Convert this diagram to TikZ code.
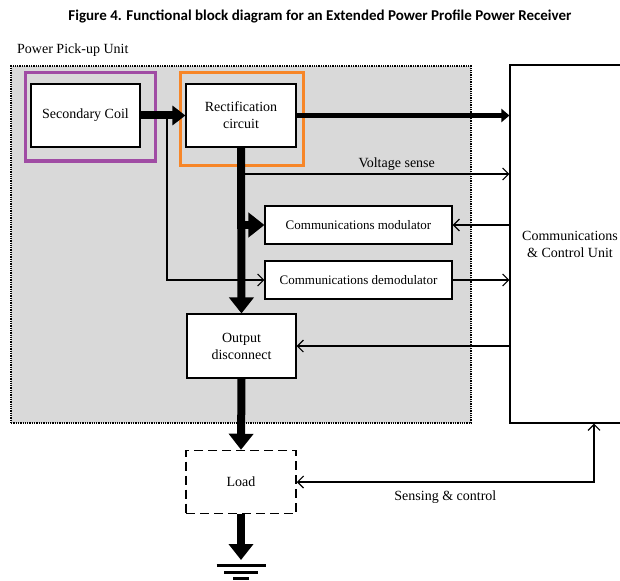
\documentclass[tikz,border=0pt]{standalone}
\usepackage{fontspec}
\setmainfont{Liberation Serif}
\newfontfamily\titlefont{Carlito}
\usetikzlibrary{arrows.meta}

\definecolor{unitgray}{RGB}{217,217,217}
\definecolor{coilpurple}{RGB}{160,76,164}
\definecolor{rectorange}{RGB}{247,134,40}

\begin{document}
\begin{tikzpicture}[x=1pt, y=-1pt,
  block/.style={draw, line width=1.1pt, fill=white, inner sep=0pt, align=center,
                font=\fontsize{14}{17}\selectfont},
  sig/.style={line width=1.2pt, -{Straight Barb[length=6pt,width=12pt]}},
  bus/.style={line width=8pt, -{Triangle[length=16pt,width=24pt]}},
  frame/.style={line width=3pt, inner sep=0pt}]

\useasboundingbox (0,0) rectangle (620,580);
\clip (0,0) rectangle (620,580);

\node[font=\titlefont\bfseries\fontsize{15}{18}\selectfont] (title) at (320,17)
  {Figure 4. Functional block diagram for an Extended Power Profile Power Receiver};

% the pick-up unit and the control unit
\node[draw, densely dotted, line width=1.3pt, fill=unitgray, inner sep=0pt,
      minimum width=460pt, minimum height=357pt] (unit) at (241,244.5) {};
\node[anchor=west, inner sep=0pt, font=\fontsize{14}{17}\selectfont] (unitlabel) at (17,50) {Power Pick-up Unit};
\node[block, minimum width=120pt, minimum height=358pt] (ccu) at (570,244) {Communications\\\& Control Unit};

\node[frame, draw=coilpurple, minimum width=130pt, minimum height=88pt] (coilframe) at (90,117) {};
\node[frame, draw=rectorange, minimum width=123pt, minimum height=92pt] (rectframe) at (241.5,119) {};

\node[block, minimum width=109pt, minimum height=63pt] (coil) at (85.5,115.5) {Secondary Coil};
\node[block, minimum width=110pt, minimum height=63pt] (rect) at (241,115.5) {Rectification\\circuit};
\node[block, font=\fontsize{13}{15}\selectfont, minimum width=187pt, minimum height=38pt] (mod) at (358.5,225) {Communications modulator};
\node[block, font=\fontsize{13}{15}\selectfont, minimum width=187pt, minimum height=38pt] (demod) at (358.5,280) {Communications demodulator};
\node[block, minimum width=109pt, minimum height=64pt] (out) at (241.5,346) {Output\\disconnect};
\node[block, line width=1.5pt, dash pattern=on 9pt off 5pt, minimum width=110pt, minimum height=63pt] (load) at (241,482) {Load};

\coordinate (tap) at (167,115.5);
\coordinate (vtap) at (241,174);
\coordinate (gnd) at (241,560);

% power path
\draw[bus, -{Triangle[length=13pt,width=19pt]}] (coil.east) -- (rect.west);
\draw[line width=5pt, -{Triangle[length=8pt,width=13pt]}] (rect.east) -- (rect.east -| ccu.west);
\draw[bus] (rect.south) -- (out.north);
\draw[bus] (mod.west -| rect.south) -- (mod.west);
\draw[bus] (out.south) -- (load.north);
\draw[bus] (load.south) -- (gnd);

% ground
\draw[line width=3pt] (gnd) ++(-24.5,5) -- ++(49,0);
\draw[line width=3pt] (gnd) ++(-17,12) -- ++(34,0);
\draw[line width=3pt] (gnd) ++(-8,18.5) -- ++(16,0);

% signals
\draw[sig] (tap) |- (demod.west);
\draw[sig] (vtap) -- (vtap -| ccu.west)
  node[pos=0.58, above, font=\fontsize{14}{17}\selectfont] (vlabel) {Voltage sense};
\draw[sig] (mod.east -| ccu.west) -- (mod.east);
\draw[sig] (demod.east) -- (demod.east -| ccu.west);
\draw[sig] (out.east -| ccu.west) -- (out.east);
\draw[sig, {Straight Barb[length=6pt,width=12pt]}-{Straight Barb[length=6pt,width=12pt]}]
  (load.east) -| ([xshift=24pt]ccu.south)
  node[pos=0.25, below=5pt, font=\fontsize{14}{17}\selectfont] (slabel) {Sensing \& control};

\end{tikzpicture}
\end{document}
